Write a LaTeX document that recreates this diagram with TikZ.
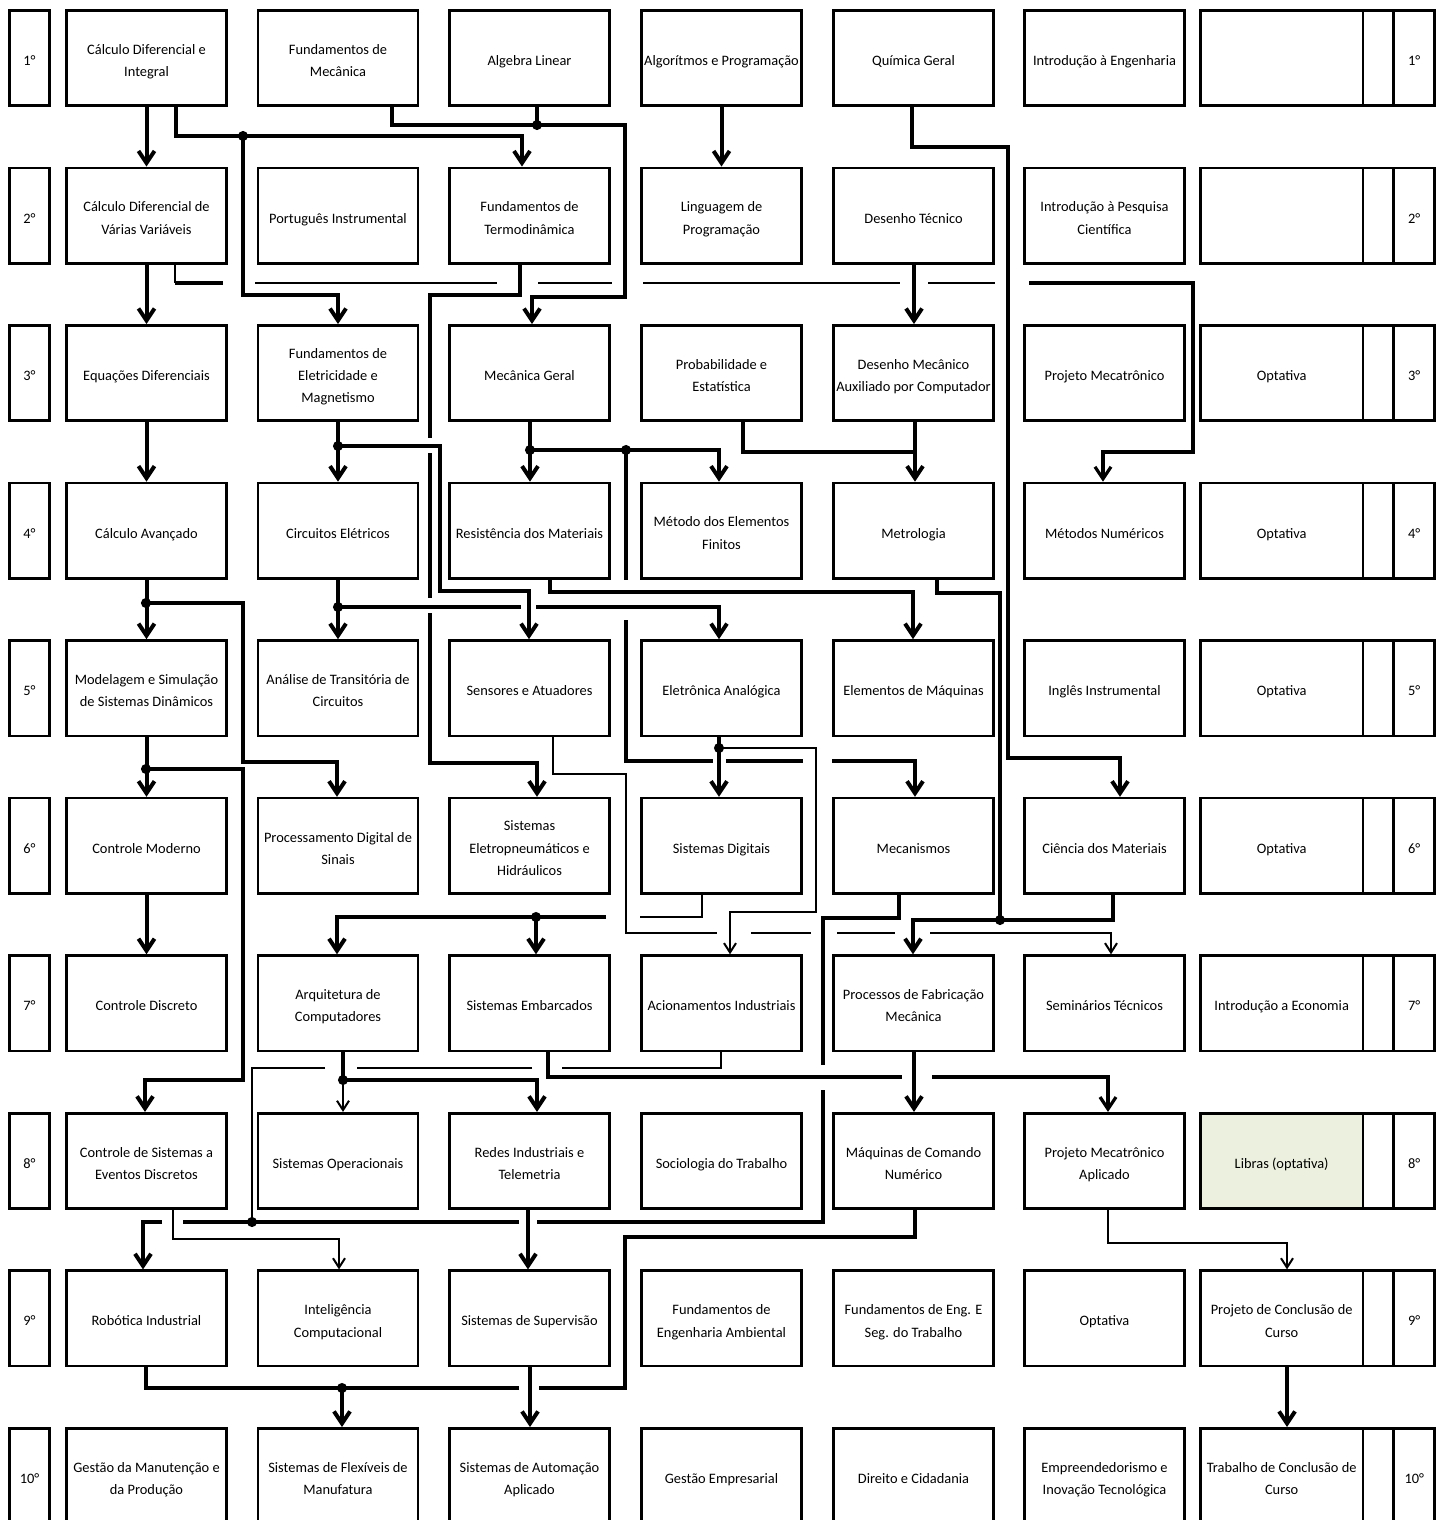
\documentclass[tikz,border=0pt]{standalone}
\usepackage{fontspec}
\setmainfont{Carlito}
\usetikzlibrary{arrows.meta}
\definecolor{libras}{RGB}{235,241,222}
\newcommand\jdot[1]{\fill (#1) circle[radius=3.8pt];}
\newcommand\cellx[5]{% name, x, y, extra style, text
  \node[box,#4] (#1) at (#2,#3) {};
  \node[txt] (t#1) at (#1.center) {\rule{0pt}{10pt}#5\rule[-3pt]{0pt}{3pt}};
}
\newcommand\semrow[9]{%
  \cellx{L#1}{29.5}{#2}{minimum width=30.2pt}{#1°}
  \cellx{r#1c1}{146.5}{#2}{}{#3}
  \cellx{r#1c2}{338}{#2}{}{#4}
  \cellx{r#1c3}{529.5}{#2}{}{#5}
  \cellx{r#1c4}{721.5}{#2}{}{#6}
  \cellx{r#1c5}{913.5}{#2}{}{#7}
  \cellx{r#1c6}{1104.5}{#2}{}{#8}
  \cellx{r#1c7}{1281.65}{#2}{minimum width=122pt,c7fill}{#9}
  \node[box,minimum width=23pt] (S#1) at (1378.35,#2) {};
  \cellx{R#1}{1414.25}{#2}{minimum width=30.8pt}{#1°}
}
\begin{document}
\begin{tikzpicture}[x=0.75pt,y=-0.75pt,
  box/.style={draw,line width=2pt,minimum width=120.2pt,minimum height=71.5pt,inner sep=0pt},
  txt/.style={align=center,inner sep=0pt,yshift=-2.1pt,font=\fontsize{10.8pt}{16.8pt}\selectfont},
  c7fill/.style={},
  thk/.style={line width=3pt},
  medl/.style={line width=2.4pt},
  thinmid/.style={line width=2pt},
  thn/.style={line width=1.5pt},
  arr/.style={-{Straight Barb[length=9pt,width=12pt]}},
  tarr/.style={-{Straight Barb[length=7pt,width=9pt]}}]
\useasboundingbox (0,0) rectangle (1446,1520);
\fill[white] (0,0) rectangle (1446,1520);
\clip (0,0) rectangle (1446,1520);

\semrow{1}{58}{Cálculo Diferencial e\\Integral}{Fundamentos de\\Mecânica}{Algebra Linear}{Algorítmos e Programação}{Química Geral}{Introdução à Engenharia}{}
\semrow{2}{215.6}{Cálculo Diferencial de\\Várias Variáveis}{Português Instrumental}{Fundamentos de\\Termodinâmica}{Linguagem de\\Programação}{Desenho Técnico}{Introdução à Pesquisa\\Científica}{}
\semrow{3}{373.1}{Equações Diferenciais}{Fundamentos de\\Eletricidade e\\Magnetismo}{Mecânica Geral}{Probabilidade e\\Estatística}{Desenho Mecânico\\Auxiliado por Computador}{Projeto Mecatrônico}{Optativa}
\semrow{4}{530.7}{Cálculo Avançado}{Circuitos Elétricos}{Resistência dos Materiais}{Método dos Elementos\\Finitos}{Metrologia}{Métodos Numéricos}{Optativa}
\semrow{5}{688.2}{Modelagem e Simulação\\de Sistemas Dinâmicos}{Análise de Transitória de\\Circuitos}{Sensores e Atuadores}{Eletrônica Analógica}{Elementos de Máquinas}{Inglês Instrumental}{Optativa}
\semrow{6}{845.8}{Controle Moderno}{Processamento Digital de\\Sinais}{Sistemas\\Eletropneumáticos e\\Hidráulicos}{Sistemas Digitais}{Mecanismos}{Ciência dos Materiais}{Optativa}
\semrow{7}{1003.3}{Controle Discreto}{Arquitetura de\\Computadores}{Sistemas Embarcados}{Acionamentos Industriais}{Processos de Fabricação\\Mecânica}{Seminários Técnicos}{Introdução a Economia}
\tikzset{c7fill/.style={fill=libras}}
\semrow{8}{1160.9}{Controle de Sistemas a\\Eventos Discretos}{Sistemas Operacionais}{Redes Industriais e\\Telemetria}{Sociologia do Trabalho}{Máquinas de Comando\\Numérico}{Projeto Mecatrônico\\Aplicado}{Libras (optativa)}
\tikzset{c7fill/.style={}}
\semrow{9}{1318.4}{Robótica Industrial}{Inteligência\\Computacional}{Sistemas de Supervisão}{Fundamentos de\\Engenharia Ambiental}{Fundamentos de Eng. E\\Seg. do Trabalho}{Optativa}{Projeto de Conclusão de\\Curso}
\semrow{10}{1476}{Gestão da Manutenção e\\da Produção}{Sistemas de Flexíveis de\\Manufatura}{Sistemas de Automação\\Aplicado}{Gestão Empresarial}{Direito e Cidadania}{Empreendedorismo e\\Inovação Tecnológica}{Trabalho de Conclusão de\\Curso}

% ---- 1 -> 2
\draw[thk,arr] (r1c1.south) -- (r2c1.north);
\draw[thk,arr] (r1c1.south -| 176,0) |- (522,136) -- (r2c3.north -| 522,0);
\draw[thk,arr] (243,136) |- (338,295) -- (r3c2.north -| 338,0);
\jdot{243,136}
\draw[thk,arr] (r1c2.south -| 392,0) |- (625,125) |- (532,297) -- (r3c3.north -| 532,0);
\draw[thk] (r1c3.south -| 537,0) -- (537,125);
\jdot{537,125}
\draw[thk,arr] (r1c4.south) -- (r2c4.north);
\draw[thk,arr] (r1c5.south -| 912,0) |- (1008,147) |- (1120,758) -- (r6c6.north -| 1120,0);

% ---- 2 -> 3/4
\draw[thk,arr] (r2c1.south) -- (r3c1.north);
\draw[thn] (r2c1.south -| 175,0) -- (175,283);
\draw[thk] (175,283) -- (223,283);
\draw[thinmid] (255,283) -- (497,283);
\draw[thinmid] (538,283) -- (612,283);
\draw[thinmid] (643,283) -- (900,283);
\draw[thinmid] (928,283) -- (995,283);
\draw[medl,arr] (1029,283) -| (1193,452) -| (r4c6.north -| 1103,0);
\draw[thk] (r2c3.south -| 520,0) |- (430,295) -- (430,438);
\draw[thk] (430,453) -- (430,598);
\draw[thk,arr] (430,613) |- (537,763) -- (r6c3.north -| 537,0);
\draw[thk,arr] (r2c5.south -| 914,0) -- (r3c5.north -| 914,0);

% ---- 3 -> 4
\draw[thk,arr] (r3c1.south) -- (r4c1.north);
\draw[thk,arr] (r3c2.south) -- (r4c2.north);
\jdot{338,446}
\draw[thk,arr] (338,446) -| (440,591) -| (r5c3.north -| 529,0);
\draw[thk,arr] (r3c3.south -| 530,0) -- (r4c3.north -| 530,0);
\jdot{530,450}
\draw[thk,arr] (530,450) -| (r4c4.north -| 719,0);
\jdot{626,450}
\draw[thk] (626,450) -- (626,580);
\draw[thk] (626,620) |- (713,761);
\draw[thk] (726,761) -- (803,761);
\draw[thk,arr] (832,761) -| (r6c5.north -| 915,0);
\draw[thk] (r3c4.south -| 743,0) |- (915,452);
\draw[thk,arr] (r3c5.south -| 915,0) -- (r4c5.north -| 915,0);

% ---- 4 -> 5
\draw[thk,arr] (r4c1.south) -- (r5c1.north);
\jdot{146,603}
\draw[thk,arr] (146,603) -| (243,762) -| (r6c2.north -| 337,0);
\draw[thk,arr] (r4c2.south) -- (r5c2.north);
\jdot{338,607}
\draw[thk] (338,607) -- (521,607);
\draw[thk,arr] (536,607) -| (r5c4.north -| 719,0);
\draw[thk,arr] (r4c3.south -| 550,0) |- (913,592) -- (r5c5.north -| 913,0);
\draw[thk] (r4c5.south -| 937,0) |- (1000,593) -- (1000,920);

% ---- 5 -> 6
\draw[thk,arr] (r5c1.south) -- (r6c1.north);
\jdot{146,769}
\draw[thk,arr] (146,769) -| (243,1080) -| (r8c1.north -| 145,0);
\draw[thn] (r5c3.south -| 553,0) |- (626,774) |- (717,933);
\draw[thn] (751,933) -- (811,933);
\draw[thn] (837,933) -- (895,933);
\draw[thn,tarr] (930,933) -| (r7c6.north -| 1111,0);
\draw[thk,arr] (r5c4.south -| 719,0) -- (r6c4.north -| 719,0);
\jdot{719,748}
\draw[thn,tarr] (719,748) -| (816,912) -| (r7c4.north -| 730,0);

% ---- 6 -> 7
\draw[thk,arr] (r6c1.south) -- (r7c1.north);
\draw[thn] (r6c4.south -| 702,0) |- (640,917);
\draw[thk,arr] (606,917) -| (r7c2.north -| 337,0);
\jdot{536,917}
\draw[thk,arr] (536,917) -- (r7c3.north -| 536,0);
\draw[thk] (r6c5.south -| 899,0) |- (823,918) -- (823,1065);
\draw[thk] (823,1090) |- (537,1222);
\draw[thk] (519,1222) -- (183,1222);
\draw[thk,arr] (162,1222) -| (r9c1.north -| 143,0);
\draw[thk,arr] (r6c6.south -| 1113,0) |- (913,920) -- (r7c5.north -| 913,0);
\jdot{1000,920}

% ---- 7 -> 8
\draw[thn] (r7c4.south -| 721,0) |- (562,1068);
\draw[thn] (532,1068) -- (357,1068);
\draw[thn] (325,1068) -| (252,1222);
\jdot{252,1222}
\draw[thk] (r7c2.south -| 343,0) -- (343,1080);
\draw[thn,tarr] (343,1080) -- (r8c2.north -| 343,0);
\jdot{343,1080}
\draw[thk,arr] (343,1080) -| (r8c3.north -| 537,0);
\draw[medl] (r7c3.south -| 548,0) |- (902,1077);
\draw[medl,arr] (932,1077) -| (r8c6.north -| 1108,0);
\draw[thk,arr] (r7c5.south -| 914,0) -- (r8c5.north -| 914,0);

% ---- 8 -> 9 -> 10
\draw[thn,tarr] (r8c1.south -| 173,0) |- (339,1239) -- (r9c2.north -| 339,0);
\draw[thk,arr] (r8c3.south -| 528,0) -- (r9c3.north -| 528,0);
\draw[thk] (r8c5.south -| 915,0) |- (625,1237) |- (539,1388);
\draw[thk,arr] (519,1388) -| (r10c2.north -| 342,0);
\draw[thk] (r9c1.south -| 146,0) |- (342,1388);
\jdot{342,1388}
\draw[thk,arr] (r9c3.south -| 530,0) -- (r10c3.north -| 530,0);
\draw[thn,tarr] (r8c6.south -| 1108,0) |- (1287,1243) -- (r9c7.north -| 1287,0);
\draw[thk,arr] (r9c7.south -| 1287,0) -- (r10c7.north -| 1287,0);
\end{tikzpicture}
\end{document}
